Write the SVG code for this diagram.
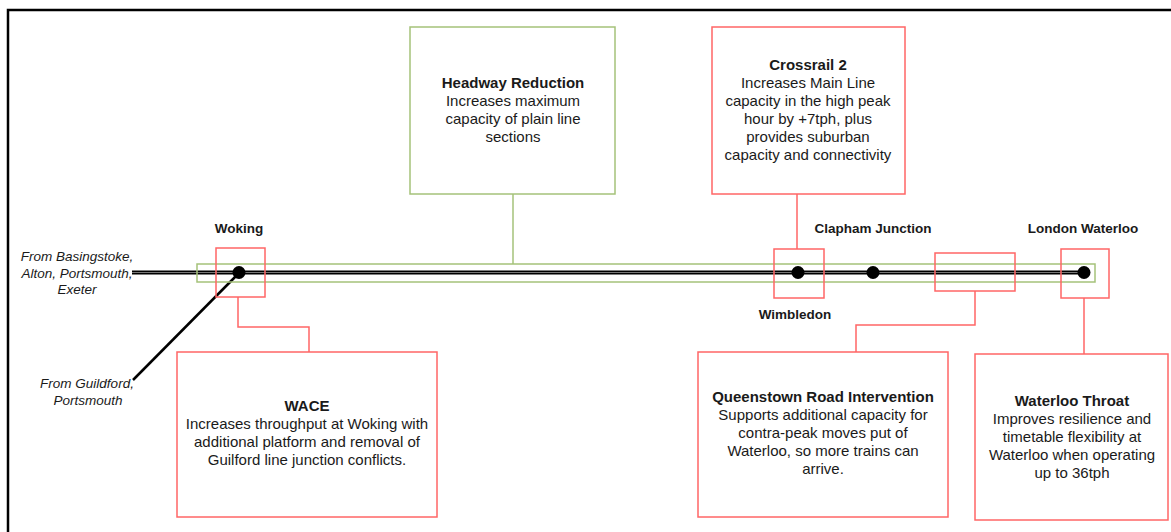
<svg xmlns="http://www.w3.org/2000/svg" width="1171" height="532" viewBox="0 0 1171 532">
<style>
text{font-family:"Liberation Sans",Arial,sans-serif;fill:#1a1a1a}
.t{font-size:15px;text-anchor:middle}
.b{font-weight:bold}
.st{font-size:13.5px;font-weight:bold;text-anchor:middle}
.it{font-size:13.5px;font-style:italic;text-anchor:middle}
.red{fill:none;stroke:#ff6666;stroke-width:1.5}
.grn{fill:none;stroke:#a5c27a;stroke-width:1.5}
.wire{fill:none;stroke:#ff6666;stroke-width:1.5}
.gwire{fill:none;stroke:#a5c27a;stroke-width:1.5}
.dot{fill:#000}
</style>
<rect width="1171" height="532" fill="#fff"/>
<path d="M8 532 V10 H1171" fill="none" stroke="#000" stroke-width="2.5"/>

<g id="connectors">
<line x1="132" y1="272.5" x2="1084" y2="272.5" stroke="#000" stroke-width="4"/>
<line x1="132" y1="272.5" x2="1084" y2="272.5" stroke="#777" stroke-width="1"/>
<line x1="239" y1="273" x2="133" y2="380" stroke="#000" stroke-width="2.5"/>
<path class="gwire" d="M513 194 V264"/>
<path class="wire" d="M797 194 V249"/>
<path class="wire" d="M238 297 V327 H309 V352"/>
<path class="wire" d="M975 291 V325 H856 V352"/>
<path class="wire" d="M1084 298 V354"/>
</g>

<g id="line-section"><rect class="grn" x="197" y="264" width="898" height="18"/></g>

<g id="woking">
<rect class="red" x="216" y="248" width="49" height="49"/>
<circle class="dot" cx="239" cy="272.5" r="6.5"/>
<text class="st" x="239" y="233">Woking</text>
</g>
<g id="wimbledon">
<rect class="red" x="774" y="249" width="50" height="49"/>
<circle class="dot" cx="798" cy="272.5" r="6.5"/>
<text class="st" x="795" y="319">Wimbledon</text>
</g>
<g id="clapham">
<circle class="dot" cx="873" cy="272.5" r="6.5"/>
<text class="st" x="873" y="233">Clapham Junction</text>
</g>
<g id="queenstown-area"><rect class="red" x="935" y="253" width="80" height="38"/></g>
<g id="waterloo">
<rect class="red" x="1061" y="249" width="48" height="49"/>
<circle class="dot" cx="1084" cy="272.5" r="6.5"/>
<text class="st" x="1083" y="233">London Waterloo</text>
</g>

<g id="from-basingstoke">
<text class="it" x="77" y="261">From Basingstoke,</text>
<text class="it" x="77" y="278">Alton, Portsmouth,</text>
<text class="it" x="77" y="294">Exeter</text>
</g>
<g id="from-guildford">
<text class="it" x="87" y="388">From Guildford,</text>
<text class="it" x="88" y="405">Portsmouth</text>
</g>

<g id="headway">
<rect class="grn" x="410" y="27" width="205" height="167"/>
<text class="t" x="513"><tspan class="b" x="513" y="88">Headway Reduction</tspan><tspan x="513" y="106">Increases maximum</tspan><tspan x="513" y="124">capacity of plain line</tspan><tspan x="513" y="142">sections</tspan></text>
</g>

<g id="crossrail2">
<rect class="red" x="712" y="27" width="193" height="167"/>
<text class="t" x="808"><tspan class="b" x="808" y="70">Crossrail 2</tspan><tspan x="808" y="88">Increases Main Line</tspan><tspan x="808" y="106">capacity in the high peak</tspan><tspan x="808" y="124">hour by +7tph, plus</tspan><tspan x="808" y="142">provides suburban</tspan><tspan x="808" y="160">capacity and connectivity</tspan></text>
</g>

<g id="wace">
<rect class="red" x="177" y="352" width="260" height="165"/>
<text class="t" x="307"><tspan class="b" x="307" y="411">WACE</tspan><tspan x="307" y="429">Increases throughput at Woking with</tspan><tspan x="307" y="447">additional platform and removal of</tspan><tspan x="307" y="465">Guilford line junction conflicts.</tspan></text>
</g>

<g id="queenstown">
<rect class="red" x="698" y="352" width="250" height="165"/>
<text class="t" x="823"><tspan class="b" x="823" y="402">Queenstown Road Intervention</tspan><tspan x="823" y="420">Supports additional capacity for</tspan><tspan x="823" y="438">contra-peak moves put of</tspan><tspan x="823" y="456">Waterloo, so more trains can</tspan><tspan x="823" y="474">arrive.</tspan></text>
</g>

<g id="waterloo-throat">
<rect class="red" x="975" y="354" width="193" height="166"/>
<text class="t" x="1072"><tspan class="b" x="1072" y="406">Waterloo Throat</tspan><tspan x="1072" y="424">Improves resilience and</tspan><tspan x="1072" y="442">timetable flexibility at</tspan><tspan x="1072" y="460">Waterloo when operating</tspan><tspan x="1072" y="478">up to 36tph</tspan></text>
</g>
</svg>
